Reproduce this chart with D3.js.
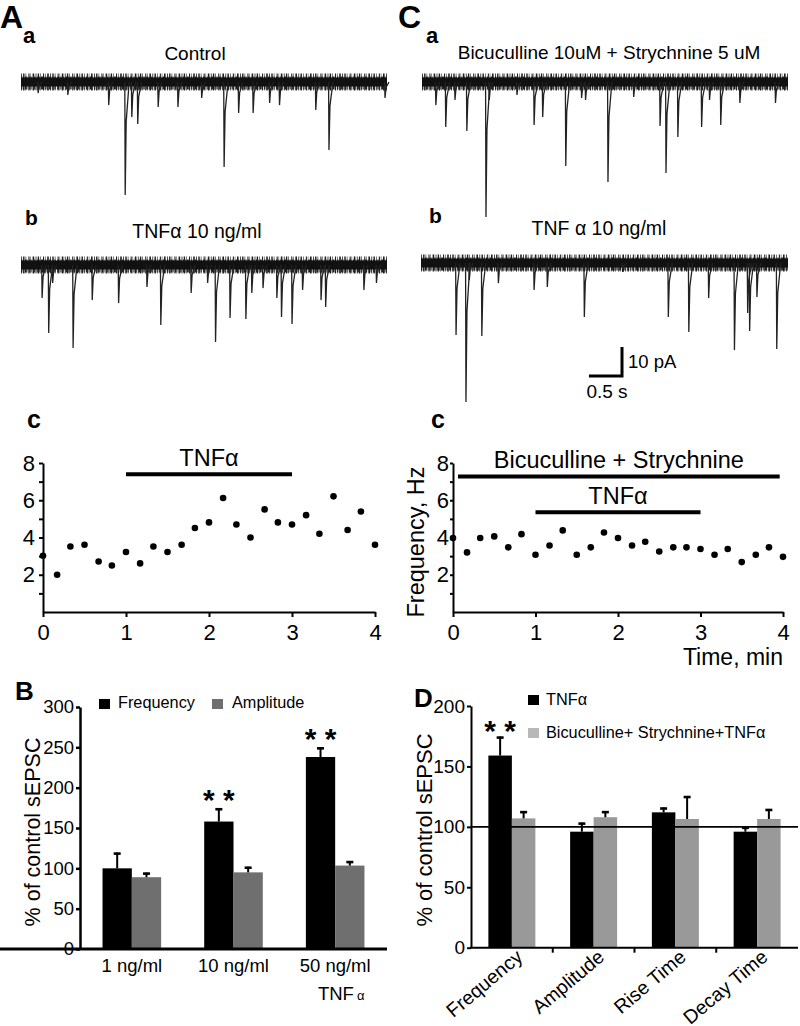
<!DOCTYPE html>
<html><head><meta charset="utf-8">
<script src="https://cdn.jsdelivr.net/npm/d3@7"></script>
<style>
body{margin:0;background:#fff;}
svg{display:block;font-family:"Liberation Sans",Arial,sans-serif;}
</style></head><body>
<svg id="fig" width="800" height="1026"></svg>
<script>
// ---------------- DATA ----------------
// Current traces: events as [time (s), amplitude (pA)]
const traceDuration = 5.55;
const controlEvents = [[0.26,3.7],[0.71,4.3],[1.33,7.7],[1.58,37.7],[1.68,11.7],[1.77,14],[2.08,8.3],[2.38,8.3],[2.74,5.3],[3.08,28.3],[3.30,10.3],[3.52,10.3],[3.77,7],[3.92,7.7],[4.47,9.3],[4.67,22.7],[5.52,5.3]];
const tnfEvents = [[0.32,11],[0.42,22.7],[0.48,6],[0.79,27.7],[1.08,11.7],[1.48,12.7],[1.91,7.3],[2.12,20],[2.58,9.3],[2.83,6],[2.95,25.7],[3.17,17.7],[3.41,18],[3.50,9.3],[3.67,7.7],[3.88,11],[3.95,17.3],[4.11,19.7],[4.27,8.3],[4.55,11.7],[4.62,14],[5.20,8.3],[5.39,6]];
const bicEvents = [[0.21,7.7],[0.36,15],[0.50,6],[0.68,16.3],[0.97,45],[1.02,6],[1.44,4.3],[1.70,14.3],[1.83,11.7],[2.18,28],[2.42,5.3],[2.48,6],[2.82,33.3],[3.21,5],[3.61,14.7],[3.70,30.3],[3.88,18.3],[4.24,15],[4.36,6],[4.53,14.3],[4.82,7],[5.36,7]];
const bicTnfEvents = [[0.53,24],[0.68,46.3],[0.73,5.7],[0.92,24.3],[1.17,6.7],[1.71,9],[1.91,8],[2.47,18],[3.05,3],[3.74,18],[4.05,23],[4.35,11.7],[4.74,29],[4.94,16.7],[4.97,22.7],[5.08,11.3],[5.38,28.7]];
const scaleBarTime = 0.5, scaleBarCurrent = 10;

// Frequency time courses (min, Hz)
const acTimes = [0,0.17,0.33,0.5,0.67,0.83,1,1.17,1.33,1.5,1.67,1.83,2,2.17,2.33,2.5,2.67,2.83,3,3.17,3.33,3.5,3.67,3.83,4];
const acFreq  = [3.02,2.0,3.52,3.61,2.71,2.50,3.22,2.61,3.52,3.22,3.61,4.51,4.81,6.12,4.70,4.0,5.51,4.81,4.70,5.20,4.20,6.21,4.40,5.40,3.61];
const ccTimes = [0,0.17,0.33,0.5,0.67,0.83,1,1.17,1.33,1.5,1.67,1.83,2,2.17,2.33,2.5,2.67,2.83,3,3.17,3.33,3.5,3.67,3.83,4];
const ccFreq  = [3.97,3.20,3.97,4.06,3.47,4.18,3.07,3.57,4.38,3.07,3.47,4.27,3.97,3.57,3.77,3.25,3.47,3.47,3.38,3.07,3.38,2.68,3.07,3.47,2.96];
const timeTicks = [0,1,2,3,4];
const freqTicks = [1,2,3,4,5,6,7,8];
const acTreatments = [{label:"TNFα", start:1, end:3, level:7.39}];
const ccTreatments = [{label:"Bicuculline + Strychnine", start:0.06, end:3.96, level:7.27},{label:"TNFα", start:1, end:3, level:5.36}];

// Panel B
const bCategories = ["1 ng/ml","10 ng/ml","50 ng/ml"];
const bSeries = ["Frequency","Amplitude"];
const bFrequency = [100,158,238];
const bFrequencyErr = [19.5,16.5,12];
const bAmplitude = [89,95,103.4];
const bAmplitudeErr = [5.7,7,5.6];
const bSignif = ["","* *","* *"];
const bYTicks = [0,50,100,150,200,250,300];

// Panel D
const dCategories = ["Frequency","Amplitude","Rise Time","Decay Time"];
const dSeries = ["TNFα","Bicuculline+ Strychnine+TNFα"];
const dTnf = [159,96,112,96];
const dTnfErr = [15.7,7.5,4,4];
const dBic = [107,108,106.5,106.5];
const dBicErr = [6,5,19,8.3];
const dSignif = ["* *","","",""];
const dYTicks = [0,50,100,150,200];
const dReference = 100;

// ---------------- DRAW ----------------
const svg = d3.select("#fig");
const FONT = "'Liberation Sans', Arial, sans-serif";

function txt(x, y, str, o = {}) {
  const t = svg.append("text").attr("x", x).attr("y", y).text(str)
    .attr("font-size", o.size || 18).attr("font-weight", o.weight || "normal")
    .attr("text-anchor", o.anchor || "start").attr("fill", o.fill || "#000");
  if (o.transform) t.attr("transform", o.transform);
  return t;
}
function styleAxis(g, fs, sw) {
  g.attr("font-family", FONT).attr("font-size", fs);
  g.select(".domain").attr("stroke", "#000").attr("stroke-width", sw);
  g.selectAll(".tick line").attr("stroke", "#000").attr("stroke-width", sw);
  g.selectAll(".tick text").attr("fill", "#000");
}

// Panel letters
txt(0, 28, "A", {size: 32, weight: "bold"});
txt(23, 43, "a", {size: 22, weight: "bold"});
txt(398, 28, "C", {size: 32, weight: "bold"});
txt(426, 43, "a", {size: 22, weight: "bold"});
txt(25, 225, "b", {size: 21, weight: "bold"});
txt(429, 223, "b", {size: 21, weight: "bold"});
txt(27, 428, "c", {size: 25, weight: "bold"});
txt(431, 428, "c", {size: 25, weight: "bold"});
txt(15, 700, "B", {size: 26, weight: "bold"});
txt(414, 707, "D", {size: 26, weight: "bold"});

// Trace titles
txt(195, 60, "Control", {size: 19, anchor: "middle"});
txt(197, 238, "TNFα 10 ng/ml", {size: 19.5, anchor: "middle"});
txt(609, 59, "Bicuculline 10uM + Strychnine 5 uM", {size: 19, anchor: "middle"});
txt(599, 235, "TNF α 10 ng/ml", {size: 19.5, anchor: "middle"});

function drawTrace(x0, x1, baseY, events) {
  const x = d3.scaleLinear().domain([0, traceDuration]).range([x0, x1]);
  const y = d3.scaleLinear().domain([0, 10]).range([baseY, baseY + 30]);
  const g = svg.append("g");
  // noisy-looking fringe (irregular hatch) + dark core
  g.append("line").attr("x1", x(0)).attr("x2", x(traceDuration))
    .attr("y1", y(0)).attr("y2", y(0))
    .attr("stroke", "#1e1e1e").attr("stroke-width", 17)
    .attr("stroke-dasharray", "0.8,1.3,1.4,1.1,0.6,2.2,1.1,0.9,0.5,1.7,1.6,1.4");
  g.append("line").attr("x1", x(0)).attr("x2", x(traceDuration))
    .attr("y1", y(0) + 1).attr("y2", y(0) + 1)
    .attr("stroke", "#222").attr("stroke-width", 13)
    .attr("stroke-dasharray", "1.2,0.6,0.7,1.3,2,0.8,0.6,0.9");
  g.append("line").attr("x1", x(0)).attr("x2", x(traceDuration))
    .attr("y1", y(0)).attr("y2", y(0))
    .attr("stroke", "#111").attr("stroke-width", 9);
  const line = d3.line().x(d => x(d[0])).y(d => y(d[1]));
  g.selectAll("path").data(events).join("path")
    .attr("d", d => line([[d[0] - 0.006, 0], [d[0], d[1]], [d[0] + 0.015, d[1] * 0.35], [d[0] + 0.06, 0]]))
    .attr("fill", "none").attr("stroke", "#222").attr("stroke-width", 1.3);
  return {x, y};
}
drawTrace(21, 387, 82, controlEvents);
drawTrace(21, 387, 265, tnfEvents);
drawTrace(422, 788, 82, bicEvents);
const cb = drawTrace(421, 788, 263, bicTnfEvents);

// scale bar
{
  const cx = 622, cy = 377;
  const w = cb.x(scaleBarTime) - cb.x(0), h = cb.y(scaleBarCurrent) - cb.y(0);
  svg.append("path").attr("d", `M${cx - w},${cy - 1}H${cx}V${cy - h}`)
    .attr("fill", "none").attr("stroke", "#000").attr("stroke-width", 3);
  txt(628, 368, "10 pA", {size: 18.5});
  txt(607, 398, "0.5 s", {size: 19, anchor: "middle"});
}

// Scatter panels
function drawScatter(x0, x1, times, values, tickSize, tickPad, treatments) {
  const x = d3.scaleLinear().domain([0, 4]).range([x0, x1]);
  const y = d3.scaleLinear().domain([0, 8]).range([612, 463]);
  const gy = svg.append("g").attr("transform", `translate(${x0},0)`)
    .call(d3.axisLeft(y).tickValues(freqTicks).tickSize(tickSize).tickSizeOuter(0).tickPadding(tickPad)
      .tickFormat(d => d % 2 === 0 ? d : ""));
  styleAxis(gy, 22, 2);
  const gx = svg.append("g").attr("transform", `translate(0,612)`)
    .call(d3.axisBottom(x).tickValues(timeTicks).tickSize(5).tickSizeOuter(0).tickPadding(7)
      .tickFormat(d3.format("d")));
  styleAxis(gx, 22, 2);
  svg.append("g").selectAll("circle").data(times).join("circle")
    .attr("cx", d => x(d)).attr("cy", (d, i) => y(values[i])).attr("r", 3.3).attr("fill", "#000");
  treatments.forEach(t => {
    svg.append("line").attr("x1", x(t.start)).attr("x2", x(t.end))
      .attr("y1", y(t.level)).attr("y2", y(t.level)).attr("stroke", "#000").attr("stroke-width", 4);
    txt(x((t.start + t.end) / 2), y(t.level) - 8.5, t.label, {size: 23.5, anchor: "middle"});
  });
  return {x, y};
}
drawScatter(43, 375, acTimes, acFreq, 4, 4, acTreatments);
drawScatter(453, 783, ccTimes, ccFreq, 3, 1, ccTreatments);
txt(424, 542, "Frequency, Hz", {size: 23.5, anchor: "middle", transform: "rotate(-90,424,542)"});
txt(783, 665, "Time, min", {size: 23, anchor: "end"});

// Error bar helper
function errBar(g, cx, yTop, yErr) {
  g.append("line").attr("x1", cx).attr("x2", cx).attr("y1", yTop).attr("y2", yErr)
    .attr("stroke", "#000").attr("stroke-width", 2);
  g.append("line").attr("x1", cx - 3.5).attr("x2", cx + 3.5).attr("y1", yErr + 1).attr("y2", yErr + 1)
    .attr("stroke", "#000").attr("stroke-width", 2.6);
}

// Panel B
{
  const y = d3.scaleLinear().domain([0, 300]).range([949, 707]);
  const x = d3.scaleBand().domain(bCategories).range([81, 386]);
  const xi = d3.scaleBand().domain(bSeries).range([0, x.bandwidth()]).paddingOuter(0.735);
  const colors = {Frequency: "#000", Amplitude: "#6f6f6f"};
  const vals = {Frequency: bFrequency, Amplitude: bAmplitude};
  const errs = {Frequency: bFrequencyErr, Amplitude: bAmplitudeErr};
  const g = svg.append("g");
  bCategories.forEach((c, i) => {
    bSeries.forEach(s => {
      const bx = x(c) + xi(s);
      g.append("rect").attr("x", bx).attr("y", y(vals[s][i])).attr("width", xi.bandwidth())
        .attr("height", y(0) - y(vals[s][i])).attr("fill", colors[s]);
      errBar(g, bx + xi.bandwidth() / 2, y(vals[s][i]), y(vals[s][i] + errs[s][i]));
    });
    if (bSignif[i]) {
      const cx = x(c) + xi("Frequency") + xi.bandwidth() / 2;
      txt(cx, y(bFrequency[i] + bFrequencyErr[i]) + 2, bSignif[i], {size: 30, weight: "bold", anchor: "middle"});
    }
  });
  const gy = svg.append("g").attr("transform", "translate(80,0)")
    .call(d3.axisLeft(y).tickValues(bYTicks).tickSize(4).tickSizeOuter(0).tickPadding(2));
  styleAxis(gy, 18.5, 2.5);
  const gx = svg.append("g").attr("transform", "translate(0,949)")
    .call(d3.axisBottom(x).tickSize(0).tickSizeOuter(0).tickPadding(10));
  styleAxis(gx, 18.5, 3);
  gx.select(".domain").attr("d", "M-1,0H387");
  const t = txt(x(bCategories[2]) + x.bandwidth() / 2 + 6, 1000, "TNF", {size: 18.5, anchor: "middle"});
  t.append("tspan").attr("font-size", 13).attr("dx", 3).text("α");
  txt(40, 832, "% of control sEPSC", {size: 21.5, anchor: "middle", transform: "rotate(-90,40,832)"});
  // legend
  const lg = [{s: "Frequency", x: 99, tx: 118}, {s: "Amplitude", x: 212, tx: 232}];
  lg.forEach(l => {
    svg.append("rect").attr("x", l.x).attr("y", 699).attr("width", 11).attr("height", 10).attr("fill", colors[l.s]);
    txt(l.tx, 708, l.s, {size: 16.3});
  });
}

// Panel D
{
  const y = d3.scaleLinear().domain([0, 200]).range([947.7, 706]);
  const x = d3.scaleBand().domain(dCategories).range([471, 798]);
  const xi = d3.scaleBand().domain(dSeries).range([0, x.bandwidth()]).paddingOuter(0.74);
  const colors = {[dSeries[0]]: "#000", [dSeries[1]]: "#999"};
  const legendColors = {[dSeries[0]]: "#000", [dSeries[1]]: "#b8b8b8"};
  const vals = {[dSeries[0]]: dTnf, [dSeries[1]]: dBic};
  const errs = {[dSeries[0]]: dTnfErr, [dSeries[1]]: dBicErr};
  const g = svg.append("g");
  dCategories.forEach((c, i) => {
    dSeries.forEach(s => {
      const bx = x(c) + xi(s);
      g.append("rect").attr("x", bx).attr("y", y(vals[s][i])).attr("width", xi.bandwidth())
        .attr("height", y(0) - y(vals[s][i])).attr("fill", colors[s]);
      errBar(g, bx + xi.bandwidth() / 2, y(vals[s][i]), y(vals[s][i] + errs[s][i]));
    });
    if (dSignif[i]) {
      const cx = x(c) + xi(dSeries[0]) + xi.bandwidth() / 2;
      txt(cx, y(dTnf[i] + dTnfErr[i]) + 4, dSignif[i], {size: 30, weight: "bold", anchor: "middle"});
    }
  });
  svg.append("line").attr("x1", 471).attr("x2", 798).attr("y1", y(dReference)).attr("y2", y(dReference))
    .attr("stroke", "#000").attr("stroke-width", 1.6);
  const gy = svg.append("g").attr("transform", "translate(471,0)")
    .call(d3.axisLeft(y).tickValues(dYTicks).tickSize(4).tickSizeOuter(0).tickPadding(2));
  styleAxis(gy, 19, 2);
  svg.append("line").attr("x1", 470).attr("x2", 798).attr("y1", y(0)).attr("y2", y(0))
    .attr("stroke", "#000").attr("stroke-width", 2);
  dCategories.slice(1).forEach(c => {
    svg.append("line").attr("x1", x(c)).attr("x2", x(c)).attr("y1", y(0)).attr("y2", y(0) + 5)
      .attr("stroke", "#000").attr("stroke-width", 2);
  });
  dCategories.forEach(c => {
    const ax = x(c) + x.bandwidth() / 2 + 12, ay = 959;
    txt(ax, ay, c, {size: 19.5, anchor: "end", transform: `rotate(-40,${ax},${ay})`});
  });
  txt(432, 830, "% of control sEPSC", {size: 22, anchor: "middle", transform: "rotate(-90,432,830)"});
  const lg = [{s: dSeries[0], y: 695, ty: 705}, {s: dSeries[1], y: 728, ty: 738}];
  lg.forEach(l => {
    svg.append("rect").attr("x", 528).attr("y", l.y).attr("width", 11).attr("height", 10).attr("fill", legendColors[l.s]);
    txt(546, l.ty, l.s, {size: 16.3});
  });
}
</script></body></html>
